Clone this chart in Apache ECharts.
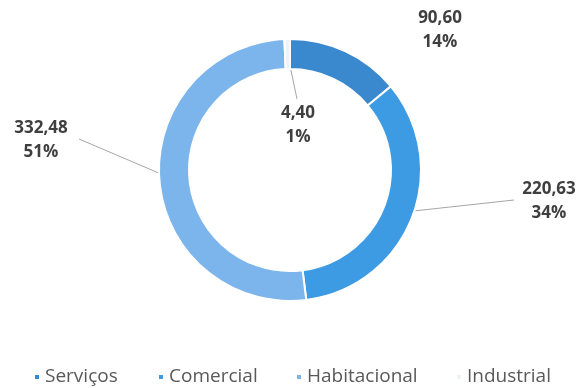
<!DOCTYPE html>
<html>
<head>
<meta charset="utf-8">
<script src="https://cdn.jsdelivr.net/npm/echarts@6/dist/echarts.min.js"></script>
<style>
  html, body { margin: 0; padding: 0; background: #fff; }
  #chart { width: 580px; height: 388px; }
</style>
</head>
<body>
<div id="chart"></div>
<script>
// Consumption by sector
const categories = ['Serviços', 'Comercial', 'Habitacional', 'Industrial'];
const values = [90.60, 220.63, 332.48, 4.40];

// Styling and layout
const colors = ['#3a88cd', '#3d9be3', '#7cb5eb', '#eef3f9'];
const center = [290, 170];
const radii = [101, 131];
const labelSpots = [
  { x: 440, y: 30, end: null },
  { x: 549, y: 201, end: [514, 200] },
  { x: 41, y: 140, end: [79, 139] },
  { x: 298, y: 125, end: [297, 99] }
];
const legendLeft = [33, 157, 295, 455];
const fontFamily = '"Open Sans", "DejaVu Sans", sans-serif';

// Mid-angle of each slice, clockwise from 12 o'clock
const total = values.reduce((a, b) => a + b, 0);
const midAngles = [];
let acc = 0;
values.forEach(v => {
  midAngles.push(2 * Math.PI * (acc + v / 2) / total);
  acc += v;
});

const chart = echarts.init(document.getElementById('chart'), null, { renderer: 'canvas' });

chart.setOption({
  animation: false,
  color: colors,
  legend: categories.map((name, i) => ({
    data: [name],
    left: legendLeft[i],
    top: 366,
    padding: 0,
    icon: 'rect',
    itemWidth: 6,
    itemHeight: 6,
    itemGap: 0,
    selectedMode: false,
    textStyle: { color: '#595959', fontSize: 19, fontFamily: fontFamily, lineHeight: 22, padding: [0, 0, 0, 0] }
  })),
  series: [{
    type: 'pie',
    center: center,
    radius: radii,
    startAngle: 90,
    clockwise: true,
    avoidLabelOverlap: false,
    emphasis: { disabled: true },
    itemStyle: { borderColor: '#ffffff', borderWidth: 2 },
    label: {
      show: true,
      position: 'outside',
      color: '#3f3f3f',
      fontFamily: fontFamily,
      fontWeight: 'bold',
      fontSize: 17,
      lineHeight: 24,
      align: 'center',
      formatter: p => p.value.toFixed(2).replace('.', ',') + '\n' + Math.round(p.percent) + '%'
    },
    labelLine: {
      show: true,
      length: 8,
      length2: 8,
      smooth: false,
      lineStyle: { color: '#a6a6a6', width: 1 }
    },
    labelLayout: function (params) {
      const i = params.dataIndex;
      const spot = labelSpots[i];
      const out = { x: spot.x, y: spot.y, align: 'center', verticalAlign: 'middle' };
      if (spot.end) {
        const mid = (radii[0] + radii[1]) / 2;
        const a = midAngles[i];
        const anchor = [center[0] + mid * Math.sin(a), center[1] - mid * Math.cos(a)];
        out.labelLinePoints = [anchor, anchor, spot.end];
      }
      return out;
    },
    data: categories.map((name, i) => ({
      name: name,
      value: values[i],
      labelLine: { show: labelSpots[i].end !== null }
    }))
  }]
});
</script>
</body>
</html>
